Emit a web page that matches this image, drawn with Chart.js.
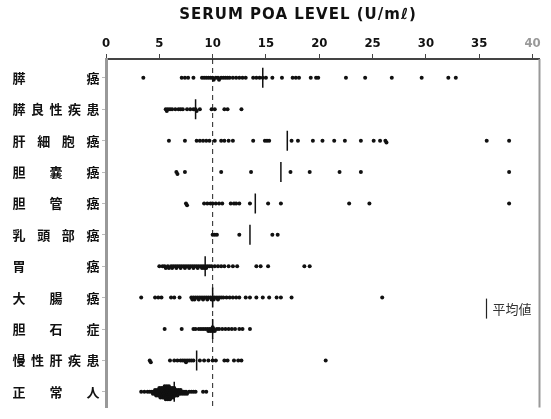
<!DOCTYPE html>
<html>
<head>
<meta charset="utf-8">
<script src="https://cdn.jsdelivr.net/npm/chart.js@4.4.1/dist/chart.umd.min.js"></script>
<style>
  html, body { margin: 0; padding: 0; background: #fff; }
  #wrap { width: 551px; height: 419px; }
</style>
</head>
<body>
<div id="wrap"><canvas id="poaChart" width="551" height="419"></canvas></div>
<script>
// groups, top to bottom
const groups = ['膵癌', '膵良性疾患', '肝細胞癌', '胆嚢癌', '胆管癌', '乳頭部癌', '胃癌', '大腸癌', '胆石症', '慢性肝疾患', '正常人'];
const xTicks = [0, 5, 10, 15, 20, 25, 30, 35, 40];
const refValue = 10;   // dashed cut-off line
const titleText = 'SERUM POA LEVEL (U/mℓ)';
const legendText = '平均値';

// serum POA values (U/ml)
const pancreasCancer = [3.5, 7.1, 7.4, 7.7, 8.2, 9.0, 9.2, 9.4, 9.6, 9.8, 10.0, 10.1, 10.3, 10.5, 10.6, 10.8, 11.0, 11.2, 11.4, 11.6, 11.9, 12.2, 12.5, 12.8, 13.1, 13.8, 14.1, 14.4, 14.7, 15.0, 15.6, 16.5, 17.5, 17.8, 18.1, 19.2, 19.7, 19.9, 22.5, 24.3, 26.8, 29.6, 32.1, 32.8];
const pancreasBenign = [5.6, 5.7, 5.8, 6.0, 6.2, 6.5, 6.8, 7.0, 7.2, 7.6, 7.9, 8.2, 8.4, 8.5, 8.8, 9.9, 10.2, 11.1, 11.4, 12.7];
const hepatoma = [5.9, 7.4, 8.5, 8.8, 9.1, 9.4, 9.7, 10.2, 10.8, 11.1, 11.5, 11.9, 13.8, 14.9, 15.1, 15.3, 17.4, 18.0, 19.4, 20.3, 21.4, 22.4, 23.9, 25.1, 25.7, 26.2, 26.3, 35.7, 37.8];
const gallbladderCancer = [6.6, 6.7, 7.4, 10.8, 13.6, 17.3, 19.1, 21.9, 23.9, 37.8];
const bileDuctCancer = [7.5, 7.6, 9.2, 9.5, 9.8, 10.0, 10.3, 10.6, 10.9, 11.7, 12.0, 12.2, 12.5, 13.5, 15.2, 16.4, 22.8, 24.7, 37.8];
const papillaCancer = [10.0, 10.2, 10.4, 12.5, 15.6, 16.1];
const gastricCancer = [5.0, 5.3, 5.5, 5.6, 5.8, 5.9, 6.1, 6.2, 6.3, 6.5, 6.6, 6.7, 6.9, 7.0, 7.1, 7.3, 7.4, 7.5, 7.7, 7.8, 7.9, 8.1, 8.2, 8.3, 8.5, 8.6, 8.7, 8.9, 9.0, 9.1, 9.2, 9.3, 9.4, 9.5, 9.7, 9.9, 10.2, 10.5, 10.8, 11.1, 11.5, 11.9, 12.3, 14.1, 14.5, 15.2, 18.6, 19.1];
const colonCancer = [3.3, 4.6, 4.9, 5.2, 6.1, 6.4, 6.9, 8.0, 8.1, 8.2, 8.3, 8.4, 8.6, 8.7, 8.8, 9.0, 9.1, 9.2, 9.4, 9.5, 9.6, 9.8, 9.9, 10.0, 10.1, 10.2, 10.4, 10.5, 10.6, 10.8, 11.0, 11.3, 11.6, 11.9, 12.2, 12.5, 13.1, 13.5, 14.1, 14.7, 15.3, 16.0, 16.4, 17.4, 25.9];
const gallstone = [5.5, 7.1, 8.2, 8.4, 8.7, 8.9, 9.1, 9.3, 9.5, 9.6, 9.7, 9.8, 9.9, 10.0, 10.0, 10.1, 10.2, 10.4, 10.6, 10.9, 11.2, 11.5, 11.8, 12.1, 12.5, 12.8, 13.5];
const chronicLiver = [4.1, 4.2, 6.0, 6.4, 6.7, 7.0, 7.2, 7.4, 7.5, 7.6, 7.8, 8.0, 8.2, 8.8, 9.2, 9.6, 10.0, 10.3, 11.1, 11.4, 12.0, 12.4, 12.7, 20.6];
const healthy = [3.3, 3.6, 3.9, 4.1, 4.3, 4.4, 4.5, 4.6, 4.6, 4.7, 4.7, 4.8, 4.8, 4.9, 4.9, 5.0, 5.0, 5.0, 5.1, 5.1, 5.1, 5.2, 5.2, 5.2, 5.3, 5.3, 5.3, 5.4, 5.4, 5.4, 5.5, 5.5, 5.5, 5.5, 5.6, 5.6, 5.6, 5.6, 5.7, 5.7, 5.7, 5.7, 5.8, 5.8, 5.8, 5.8, 5.9, 5.9, 5.9, 5.9, 6.0, 6.0, 6.0, 6.0, 6.1, 6.1, 6.1, 6.2, 6.2, 6.2, 6.3, 6.3, 6.3, 6.4, 6.4, 6.4, 6.5, 6.5, 6.6, 6.6, 6.7, 6.7, 6.8, 6.8, 6.9, 7.0, 7.0, 7.1, 7.2, 7.3, 7.4, 7.5, 7.6, 7.8, 8.0, 8.2, 8.4, 9.1, 9.4];

// mean marks (short vertical bars)
const means = [14.7, 8.4, 17.0, 16.4, 14.0, 13.5, 9.3, 10.0, 10.0, 8.5, 6.4];

const seriesValues = [pancreasCancer, pancreasBenign, hepatoma, gallbladderCancer, bileDuctCancer, papillaCancer,
  gastricCancer, colonCancer, gallstone, chronicLiver, healthy];

// simple beeswarm so crowded values pile up around the row line
function stackRow(values, row) {
  const placed = [];
  return values.slice().sort((a, b) => a - b).map(v => {
    let level = 0;
    for (let k = 0; k < 21; k++) {
      const lv = k === 0 ? 0 : (k % 2 ? (k + 1) / 2 : -k / 2);
      if (!placed.some(p => p.level === lv && Math.abs(p.v - v) < 0.16)) { level = lv; break; }
    }
    placed.push({ v, level });
    return { x: v, y: row + level * 0.06 };
  });
}

const pointData = [];
seriesValues.forEach((vals, i) => pointData.push(...stackRow(vals, i)));
const meanData = means.map((m, i) => ({ x: m, y: i }));

const decorPlugin = {
  id: 'decor',
  beforeDatasetsDraw(chart) {
    const { ctx, chartArea: a, scales: { x } } = chart;
    const rx = x.getPixelForValue(refValue);
    ctx.save();
    ctx.strokeStyle = '#222';
    ctx.lineWidth = 1;
    ctx.setLineDash([5, 4]);
    ctx.beginPath();
    ctx.moveTo(rx, a.top);
    ctx.lineTo(rx, a.bottom);
    ctx.stroke();
    ctx.restore();
  },
  afterDraw(chart) {
    const { ctx, chartArea: a, scales: { y } } = chart;
    ctx.save();
    // right frame
    ctx.strokeStyle = '#999';
    ctx.lineWidth = 2;
    ctx.beginPath();
    ctx.moveTo(a.right, a.top);
    ctx.lineTo(a.right, a.bottom);
    ctx.stroke();

    // group labels, spread across the label column
    ctx.fillStyle = '#111';
    ctx.font = 'bold 13px "Noto Sans CJK JP"';
    ctx.textAlign = 'center';
    ctx.textBaseline = 'middle';
    groups.forEach((g, i) => {
      const chars = [...g];
      const py = y.getPixelForValue(i);
      chars.forEach((c, k) => {
        const px = 19 + k * 74 / (chars.length - 1);
        ctx.fillText(c, px, py);
      });
    });

    // title
    ctx.font = 'bold 15px "DejaVu Sans"';
    ctx.letterSpacing = '1px';
    ctx.fillText(titleText, 298, 15);
    ctx.letterSpacing = '0px';

    // mean legend
    const lx = a.right - 53, ly = y.getPixelForValue(7.35);
    ctx.strokeStyle = '#222';
    ctx.lineWidth = 1.2;
    ctx.beginPath();
    ctx.moveTo(lx, ly - 10);
    ctx.lineTo(lx, ly + 10);
    ctx.stroke();
    ctx.font = '13px "Noto Sans CJK JP"';
    ctx.fillStyle = '#333';
    ctx.textAlign = 'left';
    ctx.fillText(legendText, lx + 6, ly);
    ctx.restore();
  }
};

new Chart(document.getElementById('poaChart'), {
  type: 'scatter',
  data: {
    datasets: [
      {
        label: 'values',
        data: pointData,
        backgroundColor: '#111',
        borderColor: '#111',
        borderWidth: 0,
        pointRadius: 2
      },
      {
        label: '平均値',
        data: meanData,
        pointStyle: 'line',
        rotation: 90,
        pointRadius: 10,
        borderColor: '#111',
        borderWidth: 1.5
      }
    ]
  },
  options: {
    responsive: false,
    animation: false,
    layout: { padding: { top: 0, left: 0, right: 10, bottom: 4 } },
    plugins: {
      legend: { display: false },
      tooltip: { enabled: false }
    },
    scales: {
      x: {
        type: 'linear',
        position: 'top',
        min: 0,
        max: 40.65,
        afterBuildTicks: s => { s.ticks = xTicks.map(v => ({ value: v })); },
        afterFit: s => { s.height = 59; },
        ticks: {
          padding: 3,
          color: ctx => ctx.tick && ctx.tick.value === 40 ? '#999' : '#111',
          font: { family: '"DejaVu Sans Condensed", "Liberation Sans Narrow", sans-serif', size: 13, weight: 'bold' }
        },
        grid: { drawOnChartArea: false, tickLength: 5, color: '#444' },
        border: { color: '#444', width: 2 }
      },
      y: {
        type: 'linear',
        reverse: true,
        min: -0.6,
        max: 10.5,
        afterBuildTicks: s => { s.ticks = groups.map((g, i) => ({ value: i })); },
        afterFit: s => { s.width = 106; },
        ticks: { display: false },
        grid: { drawOnChartArea: false, tickLength: 4, color: '#bbb' },
        border: { color: '#999', width: 3 }
      }
    }
  },
  plugins: [decorPlugin]
});
</script>
</body>
</html>
